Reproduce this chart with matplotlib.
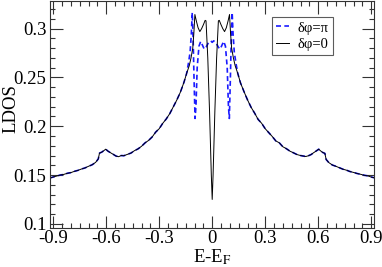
import matplotlib
matplotlib.use("Agg")
import matplotlib.pyplot as plt
from matplotlib.ticker import MultipleLocator

plt.rcParams['font.family'] = ['Liberation Serif', 'DejaVu Serif']
plt.rcParams['mathtext.fontset'] = 'stix'

# shared outer branches (both curves coincide here)
outer_left_x = [-0.918, -0.90, -0.88, -0.86, -0.84, -0.82, -0.80, -0.78, -0.76, -0.74,
                -0.72, -0.70, -0.68, -0.66, -0.645, -0.638, -0.625, -0.612, -0.603, -0.59,
                -0.575, -0.56, -0.545, -0.53, -0.515, -0.50, -0.48, -0.46, -0.44, -0.42,
                -0.40, -0.38, -0.36, -0.34, -0.32, -0.30, -0.28, -0.26, -0.24, -0.22,
                -0.20, -0.18, -0.16, -0.145]
outer_left_y = [0.1470, 0.1480, 0.1490, 0.1500, 0.1507, 0.1518, 0.1525, 0.1538, 0.1548, 0.1562,
                0.1573, 0.1590, 0.1605, 0.1630, 0.1665, 0.1725, 0.1735, 0.1752, 0.1765, 0.1745,
                0.1728, 0.1712, 0.1695, 0.1688, 0.1700, 0.1698, 0.1712, 0.1725, 0.1750, 0.1768,
                0.1795, 0.1830, 0.1855, 0.1890, 0.1940, 0.1975, 0.2030, 0.2075, 0.2130, 0.2200,
                0.2270, 0.2350, 0.2450, 0.2540]
outer_right_x = [0.145, 0.16, 0.18, 0.20, 0.22, 0.24, 0.26, 0.28, 0.30, 0.32,
                 0.34, 0.36, 0.38, 0.40, 0.42, 0.44, 0.46, 0.48, 0.50, 0.515,
                 0.53, 0.545, 0.56, 0.575, 0.59, 0.603, 0.612, 0.625, 0.638, 0.645,
                 0.66, 0.68, 0.70, 0.72, 0.74, 0.76, 0.78, 0.80, 0.82, 0.84,
                 0.86, 0.88, 0.90, 0.918]
outer_right_y = [0.2540, 0.2445, 0.2355, 0.2270, 0.2195, 0.2135, 0.2070, 0.2030, 0.1975, 0.1935,
                 0.1895, 0.1850, 0.1830, 0.1790, 0.1770, 0.1745, 0.1728, 0.1710, 0.1700, 0.1695,
                 0.1690, 0.1698, 0.1710, 0.1730, 0.1748, 0.1765, 0.1750, 0.1732, 0.1722, 0.1660,
                 0.1628, 0.1603, 0.1590, 0.1575, 0.1560, 0.1550, 0.1536, 0.1527, 0.1516, 0.1508,
                 0.1498, 0.1492, 0.1480, 0.1472]

# central part, dphi = 0 (black)
center0_x = [-0.13, -0.12, -0.11, -0.104, -0.098, -0.09, -0.08, -0.07, -0.06, -0.05,
             -0.04, -0.035, -0.025, -0.015, -0.005, 0.0, 0.005, 0.015, 0.025, 0.035,
             0.04, 0.05, 0.06, 0.07, 0.08, 0.09, 0.098, 0.104, 0.11, 0.12, 0.13]
center0_y = [0.2620, 0.2700, 0.2800, 0.2950, 0.3145, 0.3080, 0.3010, 0.2970, 0.3000, 0.3040,
             0.3085, 0.3080, 0.2700, 0.2150, 0.1500, 0.1250, 0.1500, 0.2150, 0.2700, 0.3080,
             0.3085, 0.3040, 0.3000, 0.2970, 0.3010, 0.3080, 0.3145, 0.2950, 0.2800, 0.2700, 0.2620]

# central part, dphi = pi (blue dashed)
centerpi_x = [-0.135, -0.125, -0.118, -0.113, -0.108, -0.103, -0.097, -0.092, -0.085, -0.075,
              -0.065, -0.055, -0.045, -0.035, -0.02, -0.008, 0.0, 0.008, 0.02, 0.035,
              0.045, 0.055, 0.065, 0.075, 0.085, 0.092, 0.097, 0.103, 0.108, 0.113,
              0.118, 0.125, 0.135]
centerpi_y = [0.2640, 0.2760, 0.2950, 0.3165, 0.2900, 0.2500, 0.2080, 0.2200, 0.2600, 0.2820,
              0.2870, 0.2830, 0.2790, 0.2810, 0.2860, 0.2875, 0.2860, 0.2875, 0.2860, 0.2810,
              0.2790, 0.2830, 0.2870, 0.2820, 0.2600, 0.2200, 0.2080, 0.2500, 0.2900, 0.3165,
              0.2950, 0.2760, 0.2640]

x_ticks = [-0.9, -0.6, -0.3, 0, 0.3, 0.6, 0.9]
x_labels = ['-0.9', '-0.6', '-0.3', '0', '0.3', '0.6', '0.9']
y_ticks = [0.1, 0.15, 0.2, 0.25, 0.3]
y_labels = ['0.1', '0.15', '0.2', '0.25', '0.3']

x0 = outer_left_x + center0_x + outer_right_x
y0 = outer_left_y + center0_y + outer_right_y
xpi = outer_left_x + centerpi_x + outer_right_x
ypi = outer_left_y + centerpi_y + outer_right_y

fig = plt.figure(figsize=(3.82, 2.67), dpi=100)
ax = fig.add_axes([0.131, 0.147, 0.849, 0.848])

ax.plot(xpi, ypi, color='#1a1aff', lw=1.2, ls=(0, (3, 2)), label='δφ=π')
ax.plot(x0, y0, color='black', lw=0.7, label='δφ=0')

ax.set_xlim(-0.918, 0.918)
ax.set_ylim(0.096, 0.328)
ax.set_xticks(x_ticks)
ax.set_xticklabels(x_labels)
ax.set_yticks(y_ticks)
ax.set_yticklabels(y_labels)
ax.xaxis.set_minor_locator(MultipleLocator(0.05))
ax.yaxis.set_minor_locator(MultipleLocator(0.01))
ax.tick_params(which='both', direction='in', top=True, right=True, labelsize=13.5,
               width=0.8, colors='#333333', labelcolor='black')
ax.tick_params(which='major', length=9)
ax.tick_params(which='minor', length=3.5)
ax.tick_params(axis='x', pad=1.5)
ax.tick_params(axis='y', pad=2.5)
for s in ax.spines.values():
    s.set_linewidth(0.8)
    s.set_color('#333333')

ax.set_xlabel('E-E$_\\mathrm{F}$', fontsize=13.5)
ax.xaxis.set_label_coords(0.5, -0.085, transform=ax.transAxes)
ax.xaxis.label.set_va('top')
ax.set_ylabel('LDOS', fontsize=13.5)
ax.yaxis.set_label_coords(-0.147, 0.525, transform=ax.transAxes)
ax.yaxis.label.set_va('top')

leg = ax.legend(loc='upper right', bbox_to_anchor=(0.873, 0.931), fontsize=10.5,
                frameon=True, fancybox=False, handlelength=0.9, handletextpad=0.6,
                borderpad=0.3, labelspacing=0.2, borderaxespad=0)
leg.get_frame().set_edgecolor('#333333')
leg.get_frame().set_linewidth(0.8)

fig.savefig('out.png', dpi=100)
